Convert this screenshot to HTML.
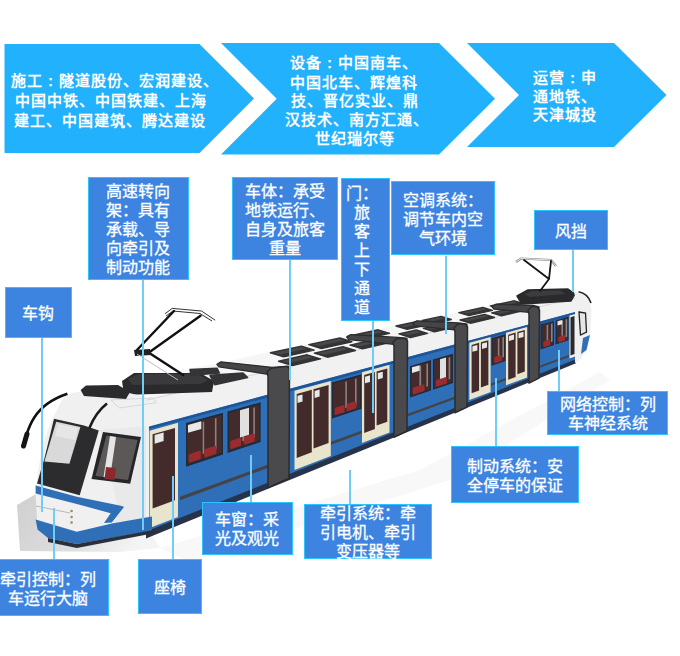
<!DOCTYPE html><html lang="zh-CN"><head><meta charset="utf-8"><style>
html,body{margin:0;padding:0;width:680px;height:656px;overflow:hidden;background:#fff;}
body{position:relative;font-family:"Liberation Sans",sans-serif;}
.bx{position:absolute;box-sizing:border-box;background:#3d84e0;border:1px solid #2ec4ff;color:#fff;font-family:"Liberation Serif",serif;font-size:16px;font-weight:400;-webkit-text-stroke:0.3px #fff;text-align:center;display:flex;flex-direction:column;justify-content:center;}
.bx div{height:19px;line-height:19px;white-space:nowrap;}
.ln{position:absolute;width:2px;background:#72ccfa;}
.cv{position:absolute;color:#fff;font-weight:bold;font-size:15px;letter-spacing:1px;white-space:nowrap;line-height:19px;height:19px;}
</style></head><body>
<svg width="680" height="656" style="position:absolute;left:0;top:0">
<polygon points="4.5,44 199.5,44 254,98.5 199.5,153 4.5,153" fill="#22b1fd"/>
<polygon points="221,43 439,43 495,98.7 439,154.4 221,154.4 276.7,98.7" fill="#22b1fd"/>
<polygon points="467,43 614,43 666.5,95 614,147 467,147 519,95" fill="#22b1fd"/>
<defs><linearGradient id="pf" x1="0" y1="0" x2="1" y2="0.3"><stop offset="0" stop-color="#cfcfcf"/><stop offset="0.6" stop-color="#dedede"/><stop offset="1" stop-color="#f4f4f4"/></linearGradient></defs>
<polygon points="17.0,505.0 36.0,494.0 140.0,515.0 160.0,548.0 120.0,552.0 20.0,551.0" fill="url(#pf)" />
<polygon points="160.0,548.0 420.0,470.0 600.0,372.0 610.0,380.0 450.0,480.0 190.0,562.0" fill="#f8f8f9" />
<polygon points="146.0,400.3 576.0,298.1 558.8,290.8 168.5,373.6" fill="#f6f6f6" />
<polygon points="146.0,399.3 576.0,297.1 576.0,311.7 146.0,427.4" fill="#f1f1f1" />
<polyline points="146.0,400.3 576.0,298.1" stroke="#d8d8d8" stroke-width="1" fill="none"/>
<polygon points="149.0,426.6 576.0,311.7 576.0,360.3 149.0,531.3 146.0,532.5" fill="#2e6fb8" />
<polyline points="146.0,428.9 576.0,313.2" stroke="#1f5598" stroke-width="2.5" fill="none"/>
<polygon points="146.0,531.5 576.0,359.3 576.0,363.3 146.0,538.5" fill="#26334a" />
<polygon points="122,381 134,373 200,373 214,381 212,392 124,395" fill="#2a2a2c"/>
<polygon points="128,379 138,374 198,374 208,380 200,384 132,385" fill="#3a3a3c"/>
<polygon points="210,375.3 243,373 247.6,377.6 214.7,384.7" fill="#343436" stroke="#343436" stroke-width="1.5" stroke-linejoin="round"/>
<polygon points="190,369.4 217,368.2 219.4,373 191,375.3" fill="#343436" stroke="#343436" stroke-width="1.5" stroke-linejoin="round"/>
<polygon points="292.5,365.5 320.5,358.8 307.2,354.8 278.6,361.3" fill="#343436" stroke="#343436" stroke-width="1.4" stroke-linejoin="round"/>
<polygon points="289.3,362.9 312.5,357.5 307.5,355.4 282.1,361.2" fill="#48484b"/>
<polygon points="327.5,357.2 355.5,350.5 342.9,346.7 314.3,353.2" fill="#343436" stroke="#343436" stroke-width="1.4" stroke-linejoin="round"/>
<polygon points="324.6,354.7 347.8,349.3 343.1,347.3 317.7,353.1" fill="#48484b"/>
<polygon points="362.5,348.9 390.5,342.2 378.5,338.6 350.0,345.1" fill="#343436" stroke="#343436" stroke-width="1.4" stroke-linejoin="round"/>
<polygon points="359.9,346.4 383.1,341.0 378.7,339.2 353.3,345.0" fill="#48484b"/>
<polygon points="283.7,356.9 314.2,350.1 301.5,346.2 270.4,352.8" fill="#343436" stroke="#343436" stroke-width="1.4" stroke-linejoin="round"/>
<polygon points="280.8,354.4 306.4,348.8 301.7,346.8 273.9,352.8" fill="#48484b"/>
<polygon points="321.4,348.5 351.9,341.7 339.9,338.0 308.8,344.6" fill="#343436" stroke="#343436" stroke-width="1.4" stroke-linejoin="round"/>
<polygon points="318.8,346.1 344.4,340.5 340.0,338.6 312.2,344.6" fill="#48484b"/>
<polygon points="359.1,340.1 389.6,333.3 378.2,329.8 347.2,336.5" fill="#343436" stroke="#343436" stroke-width="1.4" stroke-linejoin="round"/>
<polygon points="356.8,337.8 382.4,332.2 378.4,330.4 350.5,336.4" fill="#48484b"/>
<polygon points="410.5,337.5 427.5,333.4 416.3,330.0 398.9,333.9" fill="#343436" stroke="#343436" stroke-width="1.4" stroke-linejoin="round"/>
<polygon points="408.3,335.2 420.4,332.4 416.4,330.6 402.1,333.8" fill="#48484b"/>
<polygon points="434.5,331.8 451.5,327.7 440.7,324.4 423.4,328.4" fill="#343436" stroke="#343436" stroke-width="1.4" stroke-linejoin="round"/>
<polygon points="432.5,329.5 444.6,326.7 440.8,325.0 426.5,328.3" fill="#48484b"/>
<polygon points="407.1,329.4 425.6,325.3 414.9,322.0 396.0,326.0" fill="#343436" stroke="#343436" stroke-width="1.4" stroke-linejoin="round"/>
<polygon points="405.2,327.2 418.7,324.3 414.9,322.6 399.3,325.9" fill="#48484b"/>
<polygon points="432.8,323.7 451.3,319.5 441.0,316.4 422.2,320.4" fill="#343436" stroke="#343436" stroke-width="1.4" stroke-linejoin="round"/>
<polygon points="431.1,321.5 444.6,318.6 441.1,317.0 425.4,320.3" fill="#48484b"/>
<polygon points="470.5,323.2 494.5,317.5 484.5,314.5 460.1,320.0" fill="#343436" stroke="#343436" stroke-width="1.4" stroke-linejoin="round"/>
<polygon points="468.8,321.1 488.0,316.6 484.5,315.0 463.2,319.9" fill="#48484b"/>
<polygon points="501.5,315.8 525.5,310.1 516.1,307.3 491.7,312.9" fill="#343436" stroke="#343436" stroke-width="1.4" stroke-linejoin="round"/>
<polygon points="500.1,313.8 519.3,309.3 516.1,307.8 494.7,312.7" fill="#48484b"/>
<polygon points="468.8,315.6 492.4,310.4 482.9,307.5 458.8,312.6" fill="#343436" stroke="#343436" stroke-width="1.4" stroke-linejoin="round"/>
<polygon points="467.4,313.6 486.1,309.5 482.8,308.0 462.0,312.5" fill="#48484b"/>
<polygon points="499.6,308.8 523.2,303.5 514.3,300.8 490.3,305.9" fill="#343436" stroke="#343436" stroke-width="1.4" stroke-linejoin="round"/>
<polygon points="498.5,306.8 517.2,302.7 514.2,301.3 493.3,305.8" fill="#48484b"/>
<polygon points="517,296 528,290 568,289 575,294 571,301 522,304" fill="#2a2a2c" stroke="#2a2a2c" stroke-width="1.5" stroke-linejoin="round"/>
<polygon points="524,294 532,291 560,290.5 566,294 530,297" fill="#3c3c3e"/>
<polygon points="149.6,430.7 178.0,422.8 178.0,517.1 149.6,528.0" fill="#e9e4cc" />
<polygon points="152.6,434.2 175.0,428.0 175.0,500.3 152.6,508.5" fill="#432b2b" />
<polygon points="154.6,434.9 163.6,432.4 163.6,441.1 154.6,443.7" fill="#e8e8e8" />
<polygon points="186.0,423.1 223.0,412.8 223.0,454.4 186.0,466.7" fill="#1f2a3a" />
<polygon points="187.2,424.5 221.8,414.9 221.8,453.1 187.2,464.4" fill="#432b2b" />
<polygon points="202.7,422.0 204.2,421.6 204.2,453.5 202.7,454.0" fill="#8c8282" />
<polygon points="214.9,418.6 216.5,418.1 216.5,449.6 214.9,450.1" fill="#8c8282" />
<polygon points="190.0,455.1 199.6,452.0 199.6,458.0 190.0,461.1" fill="#9a2c30" stroke="#9a2c30" stroke-width="2.5" stroke-linejoin="round"/>
<polygon points="205.5,450.2 215.1,447.1 215.1,452.9 205.5,456.1" fill="#9a2c30" stroke="#9a2c30" stroke-width="2.5" stroke-linejoin="round"/>
<polygon points="188.0,424.9 201.3,421.2 201.3,428.9 188.0,432.8" fill="#e8e8e8" />
<polygon points="227.5,411.5 260.6,402.3 260.6,442.0 227.5,452.9" fill="#1f2a3a" />
<polygon points="228.7,412.9 259.4,404.3 259.4,440.7 228.7,450.8" fill="#432b2b" />
<polygon points="242.4,410.8 244.0,410.3 244.0,440.7 242.4,441.3" fill="#8c8282" />
<polygon points="253.3,407.7 254.9,407.3 254.9,437.2 253.3,437.7" fill="#8c8282" />
<polygon points="231.5,441.9 239.9,439.2 239.9,444.9 231.5,447.6" fill="#9a2c30" stroke="#9a2c30" stroke-width="2.5" stroke-linejoin="round"/>
<polygon points="245.1,437.6 253.5,434.9 253.5,440.5 245.1,443.2" fill="#9a2c30" stroke="#9a2c30" stroke-width="2.5" stroke-linejoin="round"/>
<polygon points="240.0,410.3 249.0,407.8 249.0,434.7 240.0,437.5" fill="#e0e0e0" />
<polygon points="294.5,390.8 330.8,380.9 330.8,456.0 294.5,470.0" fill="#e9e4cc" />
<polygon points="296.7,393.9 311.8,389.7 311.8,452.3 296.7,457.9" fill="#432b2b" />
<polygon points="313.5,389.2 328.6,385.0 328.6,443.1 313.5,448.6" fill="#432b2b" />
<polygon points="297.5,395.8 302.5,394.4 302.5,401.6 297.5,403.1" fill="#e8e8e8" />
<polygon points="314.6,390.9 319.6,389.5 319.6,396.6 314.6,398.1" fill="#e8e8e8" />
<polygon points="332.0,382.5 361.5,374.3 361.5,408.7 332.0,418.4" fill="#1f2a3a" />
<polygon points="333.2,383.7 360.3,376.1 360.3,407.6 333.2,416.5" fill="#432b2b" />
<polygon points="345.3,381.8 346.9,381.3 346.9,407.6 345.3,408.2" fill="#8c8282" />
<polygon points="355.0,379.0 356.6,378.6 356.6,404.5 355.0,405.0" fill="#8c8282" />
<polygon points="336.0,408.7 343.3,406.4 343.3,411.3 336.0,413.6" fill="#9a2c30" stroke="#9a2c30" stroke-width="2.5" stroke-linejoin="round"/>
<polygon points="347.8,404.9 355.0,402.6 355.0,407.4 347.8,409.8" fill="#9a2c30" stroke="#9a2c30" stroke-width="2.5" stroke-linejoin="round"/>
<polygon points="362.0,372.3 389.5,364.7 389.5,432.5 362.0,443.0" fill="#e9e4cc" />
<polygon points="364.2,375.0 374.9,372.0 374.9,429.0 364.2,433.0" fill="#432b2b" />
<polygon points="376.6,371.5 387.3,368.5 387.3,421.7 376.6,425.6" fill="#432b2b" />
<polygon points="365.0,376.7 370.0,375.3 370.0,381.9 365.0,383.3" fill="#e8e8e8" />
<polygon points="377.8,373.1 382.8,371.7 382.8,378.1 377.8,379.6" fill="#e8e8e8" />
<polygon points="410.0,366.2 431.0,360.1 431.0,390.4 410.0,397.5" fill="#1f2a3a" />
<polygon points="411.2,367.1 429.8,361.8 429.8,389.5 411.2,395.8" fill="#432b2b" />
<polygon points="419.4,366.1 421.1,365.6 421.1,388.6 419.4,389.1" fill="#8c8282" />
<polygon points="426.4,364.0 428.0,363.6 428.0,386.3 426.4,386.8" fill="#8c8282" />
<polygon points="414.0,388.7 423.3,385.7 423.3,390.0 414.0,393.1" fill="#9a2c30" stroke="#9a2c30" stroke-width="2.5" stroke-linejoin="round"/>
<polygon points="412.0,367.3 419.6,365.2 419.6,370.8 412.0,373.1" fill="#e8e8e8" />
<polygon points="433.0,359.6 453.0,353.8 453.0,382.9 433.0,389.7" fill="#1f2a3a" />
<polygon points="434.2,360.5 451.8,355.4 451.8,382.1 434.2,388.0" fill="#432b2b" />
<polygon points="442.0,359.5 443.6,359.0 443.6,381.1 442.0,381.7" fill="#8c8282" />
<polygon points="448.6,357.6 450.2,357.1 450.2,378.9 448.6,379.5" fill="#8c8282" />
<polygon points="437.0,381.2 445.7,378.4 445.7,382.5 437.0,385.4" fill="#9a2c30" stroke="#9a2c30" stroke-width="2.5" stroke-linejoin="round"/>
<polygon points="440.0,359.2 446.0,357.5 446.0,377.0 440.0,379.0" fill="#e0e0e0" />
<polygon points="469.4,342.8 490.6,336.9 490.6,392.0 469.4,400.0" fill="#e9e4cc" />
<polygon points="471.6,344.9 479.1,342.8 479.1,390.5 471.6,393.3" fill="#432b2b" />
<polygon points="480.9,342.3 488.4,340.2 488.4,384.8 480.9,387.5" fill="#432b2b" />
<polygon points="472.4,346.3 477.4,344.9 477.4,350.4 472.4,351.8" fill="#e8e8e8" />
<polygon points="482.0,343.6 487.0,342.2 487.0,347.6 482.0,349.0" fill="#e8e8e8" />
<polygon points="491.5,338.2 505.5,334.3 505.5,361.1 491.5,365.7" fill="#1f2a3a" />
<polygon points="492.7,339.0 504.3,335.8 504.3,360.4 492.7,364.2" fill="#432b2b" />
<polygon points="497.8,338.7 499.4,338.3 499.4,358.6 497.8,359.1" fill="#8c8282" />
<polygon points="502.4,337.4 504.0,337.0 504.0,357.1 502.4,357.6" fill="#8c8282" />
<polygon points="495.5,358.0 500.5,356.4 500.5,360.1 495.5,361.7" fill="#9a2c30" stroke="#9a2c30" stroke-width="2.5" stroke-linejoin="round"/>
<polygon points="506.0,332.7 527.0,326.9 527.0,377.4 506.0,385.3" fill="#e9e4cc" />
<polygon points="508.2,334.7 515.6,332.6 515.6,377.1 508.2,379.8" fill="#432b2b" />
<polygon points="517.4,332.1 524.8,330.0 524.8,371.5 517.4,374.2" fill="#432b2b" />
<polygon points="509.0,335.9 514.0,334.5 514.0,339.6 509.0,341.1" fill="#e8e8e8" />
<polygon points="518.5,333.3 523.5,331.8 523.5,336.9 518.5,338.3" fill="#e8e8e8" />
<polygon points="540.5,324.6 554.0,320.9 554.0,345.1 540.5,349.5" fill="#1f2a3a" />
<polygon points="541.7,325.3 552.8,322.2 552.8,344.5 541.7,348.1" fill="#432b2b" />
<polygon points="546.6,325.0 548.2,324.5 548.2,342.9 546.6,343.4" fill="#8c8282" />
<polygon points="551.0,323.7 552.6,323.3 552.6,341.5 551.0,342.0" fill="#8c8282" />
<polygon points="544.5,342.4 549.1,340.9 549.1,344.3 544.5,345.8" fill="#9a2c30" stroke="#9a2c30" stroke-width="2.5" stroke-linejoin="round"/>
<polygon points="555.5,320.4 568.5,316.8 568.5,340.3 555.5,344.6" fill="#1f2a3a" />
<polygon points="556.7,321.1 567.3,318.1 567.3,339.7 556.7,343.2" fill="#432b2b" />
<polygon points="561.4,320.8 563.0,320.4 563.0,338.2 561.4,338.7" fill="#8c8282" />
<polygon points="565.6,319.6 567.2,319.1 567.2,336.8 565.6,337.3" fill="#8c8282" />
<polygon points="559.5,337.6 563.8,336.2 563.8,339.5 559.5,340.9" fill="#9a2c30" stroke="#9a2c30" stroke-width="2.5" stroke-linejoin="round"/>
<polygon points="557.5,321.2 562.2,319.9 562.2,324.2 557.5,325.6" fill="#e8e8e8" />
<polygon points="569.5,315.6 575.5,313.9 575.5,356.2 569.5,358.5" fill="#f0f0f0" />
<polygon points="570.5,317.3 574.5,316.1 574.5,354.0 570.5,355.5" fill="#2a2a2c" />
<polygon points="180.0,496.7 268.0,464.6 268.0,467.9 180.0,500.3" fill="#444448" />
<polygon points="331.0,441.7 362.0,430.4 362.0,433.3 331.0,444.7" fill="#444448" />
<polygon points="408.0,413.7 455.0,396.6 455.0,399.0 408.0,416.3" fill="#444448" />
<polygon points="491.0,383.5 506.0,378.0 506.0,380.2 491.0,385.8" fill="#444448" />
<polygon points="539.0,366.0 569.0,355.1 569.0,357.0 539.0,368.1" fill="#444448" />
<polygon points="216.9,364.3 220.9,361.8 272.0,367.3 289.0,366.3 289.0,370.3 268.0,374.3 218.9,366.8" fill="#454547" stroke="#2c2c2e" stroke-width="1.2" stroke-linejoin="round"/>
<polygon points="267.0,372.3 271.0,368.3 287.0,366.3 289.5,369.3 289.0,478.2 268.0,487.6 268.0,376.3" fill="#4a4a4c" stroke="#2c2c2e" stroke-width="1.5" stroke-linejoin="round"/>
<polygon points="346.7,337.1 350.7,334.6 398.0,337.4 407.0,338.3 407.0,342.3 394.0,344.4 348.7,339.6" fill="#454547" stroke="#2c2c2e" stroke-width="1.2" stroke-linejoin="round"/>
<polygon points="393.0,342.4 397.0,338.4 405.0,338.3 407.5,341.3 407.0,431.0 394.0,437.2 394.0,346.4" fill="#4a4a4c" stroke="#2c2c2e" stroke-width="1.5" stroke-linejoin="round"/>
<polygon points="412.7,323.3 416.7,320.8 459.0,322.9 467.0,324.0 467.0,328.0 455.0,329.9 414.7,325.8" fill="#454547" stroke="#2c2c2e" stroke-width="1.2" stroke-linejoin="round"/>
<polygon points="454.0,327.9 458.0,323.9 465.0,324.0 467.5,327.0 467.0,407.0 455.0,412.8 455.0,331.9" fill="#4a4a4c" stroke="#2c2c2e" stroke-width="1.5" stroke-linejoin="round"/>
<polygon points="491.9,306.7 495.9,304.2 533.0,305.3 539.0,306.9 539.0,310.9 529.0,312.3 493.9,309.2" fill="#454547" stroke="#2c2c2e" stroke-width="1.2" stroke-linejoin="round"/>
<polygon points="528.0,310.3 532.0,306.3 537.0,306.9 539.5,309.9 539.0,378.1 529.0,383.1 529.0,314.3" fill="#4a4a4c" stroke="#2c2c2e" stroke-width="1.5" stroke-linejoin="round"/>
<polygon points="574.0,292.0 582.0,292.5 589.0,298.0 591.5,310.0 590.5,333.0 586.5,350.0 580.0,360.0 575.0,363.0 575.0,296.0" fill="#f0f0f0" />
<polygon points="579,312 585.5,313 586.5,332 580.5,335" fill="#e6e6e6" stroke="#222" stroke-width="1.3"/>
<polygon points="583.0,338.0 590.0,335.0 586.5,350.0 581.0,354.0" fill="#2e6fb8" />
<path d="M578.6,291.8 C585,293 589,297 591,303" stroke="#222" stroke-width="1.6" fill="none"/>
<polygon points="35.6,494.7 38.0,470.0 42.0,450.0 47.0,432.0 52.0,420.0 56.0,412.0 63.0,398.0 72.0,393.0 83.0,391.0 129.0,393.0 146.0,397.0 149.0,428.0 149.0,532.0 112.0,526.0 77.0,544.0 48.0,538.0 37.6,530.0" fill="#f0f0f0" />
<polygon points="100.0,430.0 146.0,426.0 146.0,527.0 112.0,526.0 118.0,508.0" fill="#e9e9e9" />
<path d="M110.6,400 L153,398 L156.5,402.6 L119.4,408 Z" fill="none" stroke="#d0d0d0" stroke-width="0.8"/>
<polygon points="80.6,390.0 86.0,385.5 118.0,385.0 130.0,392.0 126.0,399.0 84.0,396.0" fill="#2b2b2d" />
<polygon points="54.0,418.8 84.0,425.4 98.8,430.6 79.7,495.3 37.0,483.5 44.4,458.5" fill="#2c2c2e" />
<polygon points="56.2,421.8 80.4,427.0 69.4,463.7 44.4,461.5" fill="#d9d9d9" />
<polygon points="58.0,424.0 78.0,428.0 75.0,440.0 55.0,436.0" fill="#e6e6e6" />
<path d="M107,403.5 Q96,412 89.4,428" stroke="#1a1a1a" stroke-width="2.6" fill="none"/>
<polygon points="103.0,432.0 141.0,437.0 130.2,483.8 91.5,479.0" fill="#262628" />
<polygon points="106.5,435.5 137.5,440.0 128.0,480.0 95.5,476.0" fill="#5c5858" />
<polygon points="110.0,436.0 116.0,437.0 110.0,478.0 103.5,477.0" fill="#e4e4e4" />
<polygon points="106.0,467.0 116.0,468.0 114.5,480.0 104.5,479.0" fill="#8a2a2c" />
<path d="M67.4,393.8 C55,398 42,405 34,418 C30,424 28,430 26,436" stroke="#111" stroke-width="2.6" fill="none"/>
<path d="M27,434 L23.5,446" stroke="#151515" stroke-width="5" stroke-linecap="round" fill="none"/>
<polygon points="35.6,485.4 76.8,496.8 122.0,506.0 124.0,507.0 111.8,522.5 104.0,523.0 110.7,513.2 76.8,504.0 35.6,493.4" fill="#2e6fb8" />
<polygon points="35.6,519.4 76.8,531.8 111.8,523.5 152.0,516.5 152.0,531.0 76.8,544.0 48.0,538.0 37.6,529.7" fill="#2e6fb8" />
<polygon points="48.0,538.0 76.8,544.0 155.0,529.7 155.0,533.0 76.8,548.0 48.0,542.0" fill="#2a2f3a" />
<circle cx="71.6" cy="511" r="1.3" fill="#9a8a70"/>
<circle cx="71.6" cy="517" r="1.3" fill="#9a8a70"/>
<circle cx="71.6" cy="522.5" r="1.3" fill="#9a8a70"/>
<path d="M36,506 L70,513" stroke="#aaa" stroke-width="0.8" fill="none"/>
<path d="M164.9,313.8 L172.2,308.4 L201.5,311 L215.2,320.2 M166,316 L173,311 L200,313.5 L212,321" stroke="#333" stroke-width="1" fill="none"/>
<path d="M174,311 L136,351 M200.5,315.7 L149.3,352.3 M149.3,353 L183.2,375.1" stroke="#111" stroke-width="2.4" fill="none" stroke-linecap="round"/>
<path d="M134,350 L150,349 L151,355 L135,356 Z" fill="#222"/>
<path d="M137,354 L178,380" stroke="#bbb" stroke-width="1" fill="none"/>
<path d="M516,262 L521,258.5 L551,260 L556,266" stroke="#888" stroke-width="2.2" fill="none"/>
<path d="M516,262 L521,258.5 L551,260 L556,266" stroke="#e8e8e8" stroke-width="1" fill="none"/>
<path d="M524,260 L549,279 L540,291 M551,261 L549,279" stroke="#151515" stroke-width="1.8" fill="none" stroke-linecap="round"/>
</svg>
<div class="ln" style="left:141.6px;top:279.7px;height:250.3px"></div>
<div class="ln" style="left:289.0px;top:260.4px;height:119.6px"></div>
<div class="ln" style="left:372.0px;top:321.3px;height:91.7px"></div>
<div class="ln" style="left:445.0px;top:255.5px;height:78.5px"></div>
<div class="ln" style="left:571.5px;top:250.3px;height:41.7px"></div>
<div class="ln" style="left:40.7px;top:338.2px;height:173.8px"></div>
<div class="ln" style="left:557.5px;top:350.0px;height:40.7px"></div>
<div class="ln" style="left:495.2px;top:378.0px;height:67.9px"></div>
<div class="ln" style="left:249.8px;top:455.0px;height:46.6px"></div>
<div class="ln" style="left:349.1px;top:470.0px;height:33.6px"></div>
<div class="ln" style="left:52.8px;top:508.0px;height:51.4px"></div>
<div class="ln" style="left:172.0px;top:476.0px;height:82.9px"></div>
<div class="bx" style="left:88.2px;top:177.3px;width:100.6px;height:102.4px"><div style="transform:translate(0px,1px)">高速转向</div><div style="transform:translate(0px,1px)">架：具有</div><div style="transform:translate(0px,1px)">承载、导</div><div style="transform:translate(0px,1px)">向牵引及</div><div style="transform:translate(0px,1px)">制动功能</div></div>
<div class="bx" style="left:231.7px;top:177.4px;width:106.2px;height:83.0px"><div style="transform:translate(0px,1px)">车体：承受</div><div style="transform:translate(0px,1px)">地铁运行、</div><div style="transform:translate(0px,1px)">自身及旅客</div><div style="transform:translate(0px,1px)">重量</div></div>
<div class="bx" style="left:340.5px;top:177.5px;width:49.0px;height:143.8px"><div style="transform:translate(-3.5px,0.5px)">门：</div><div style="transform:translate(-3.5px,0.5px)">旅</div><div style="transform:translate(-3.5px,0.5px)">客</div><div style="transform:translate(-3.5px,0.5px)">上</div><div style="transform:translate(-3.5px,0.5px)">下</div><div style="transform:translate(-3.5px,0.5px)">通</div><div style="transform:translate(-3.5px,0.5px)">道</div></div>
<div class="bx" style="left:391.3px;top:181.3px;width:103.7px;height:74.2px"><div style="transform:translate(0px,1px)">空调系统：</div><div style="transform:translate(0px,1px)">调节车内空</div><div style="transform:translate(0px,1px)">气环境</div></div>
<div class="bx" style="left:533.5px;top:210.0px;width:74.4px;height:40.3px"><div style="transform:translate(0px,1px)">风挡</div></div>
<div class="bx" style="left:4.8px;top:286.9px;width:67.3px;height:51.3px"><div style="transform:translate(0px,1px)">车钩</div></div>
<div class="bx" style="left:547.2px;top:390.7px;width:120.8px;height:43.9px"><div style="transform:translate(0px,1px)">网络控制：列</div><div style="transform:translate(0px,1px)">车神经系统</div></div>
<div class="bx" style="left:451.0px;top:445.9px;width:127.5px;height:57.3px"><div style="transform:translate(0px,1px)">制动系统：安</div><div style="transform:translate(0px,1px)">全停车的保证</div></div>
<div class="bx" style="left:201.5px;top:501.6px;width:91.1px;height:53.4px"><div style="transform:translate(0px,1px)">车窗：采</div><div style="transform:translate(0px,1px)">光及观光</div></div>
<div class="bx" style="left:304.2px;top:503.6px;width:127.6px;height:55.9px"><div style="transform:translate(0px,1px)">牵引系统：牵</div><div style="transform:translate(0px,1px)">引电机、牵引</div><div style="transform:translate(0px,1px)">变压器等</div></div>
<div class="bx" style="left:-13.0px;top:559.4px;width:122.1px;height:56.3px"><div style="transform:translate(0px,1px)">牵引控制：列</div><div style="transform:translate(0px,1px)">车运行大脑</div></div>
<div class="bx" style="left:138.0px;top:558.9px;width:64.0px;height:54.9px"><div style="transform:translate(0px,1px)">座椅</div></div>
<div class="cv" style="left:11px;top:70.7px">施工<span lang="ja">：</span>隧道股份、宏润建设、</div>
<div class="cv" style="left:15px;top:91.0px">中国中铁、中国铁建、上海</div>
<div class="cv" style="left:14px;top:110.5px">建工、中国建筑、腾达建设</div>
<div class="cv" style="left:290px;top:52.5px">设备<span lang="ja">：</span>中国南车、</div>
<div class="cv" style="left:290px;top:72.5px">中国北车、辉煌科</div>
<div class="cv" style="left:291px;top:91.3px">技、晋亿实业、鼎</div>
<div class="cv" style="left:285px;top:110.0px">汉技术、南方汇通、</div>
<div class="cv" style="left:315px;top:128.5px">世纪瑞尔等</div>
<div class="cv" style="left:533px;top:67.8px">运营<span lang="ja">：</span>申</div>
<div class="cv" style="left:533px;top:86.6px">通地铁、</div>
<div class="cv" style="left:533px;top:105.1px">天津城投</div>
</body></html>
